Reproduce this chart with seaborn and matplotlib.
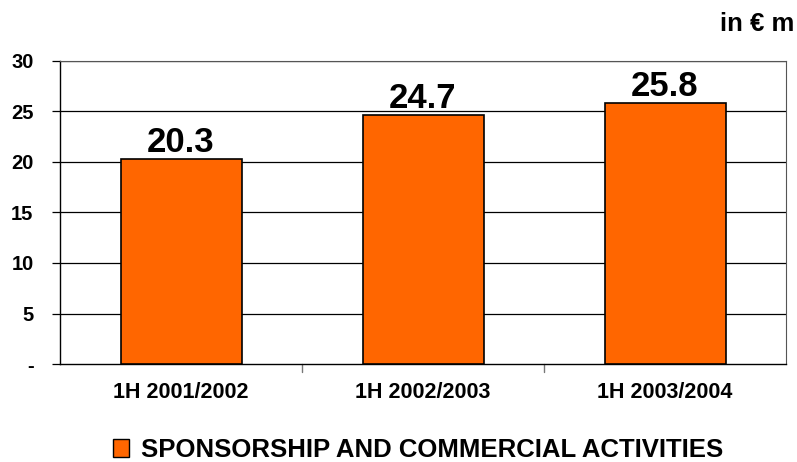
import matplotlib
matplotlib.use("Agg")
import matplotlib.pyplot as plt
import seaborn as sns
import pandas as pd
from matplotlib.patches import Patch

periods = ["1H 2001/2002", "1H 2002/2003", "1H 2003/2004"]
revenue = [20.3, 24.7, 25.8]
y_ticks = [0, 5, 10, 15, 20, 25, 30]
y_tick_labels = ["-", "5", "10", "15", "20", "25", "30"]
series_name = "SPONSORSHIP AND COMMERCIAL ACTIVITIES"

sns.set_theme(style="white")
plt.rcParams["font.family"] = ["Liberation Sans", "DejaVu Sans"]
plt.rcParams["font.weight"] = "bold"
plt.rcParams["text.color"] = "black"
plt.rcParams["xtick.color"] = "black"
plt.rcParams["ytick.color"] = "black"
plt.rcParams["axes.labelcolor"] = "black"

df = pd.DataFrame({"period": periods, "value": revenue})

fig = plt.figure(figsize=(7.97, 4.62), dpi=100)
ax = fig.add_axes([60 / 797, 1 - 364 / 462, 726 / 797, 303 / 462])

sns.barplot(data=df, x="period", y="value", color="#FF6600", saturation=1,
            width=0.5, edgecolor="black", linewidth=1.2, ax=ax, zorder=3)

ax.set_ylim(0, 30)
ax.set_xlim(-0.5, 2.5)
ax.set_yticks(y_ticks)
ax.set_yticklabels(y_tick_labels, fontsize=14.5, fontweight="bold", color="black")
ax.set_xticks(range(len(periods)))
ax.set_xticklabels(periods, fontsize=15.5, fontweight="bold", color="black")
ax.set_xlabel("")
ax.set_ylabel("")

for y in y_ticks[1:]:
    ax.axhline(y, color="black", linewidth=0.9, zorder=1)

for side in ["left", "bottom"]:
    ax.spines[side].set_color("black")
    ax.spines[side].set_linewidth(1.0)
for side in ["top", "right"]:
    ax.spines[side].set_color("#555555")
    ax.spines[side].set_linewidth(0.8)

ax.tick_params(axis="y", which="major", direction="out", length=6, width=0.9,
               color="black", left=True, pad=13)
ax.tick_params(axis="x", which="major", length=0, pad=13)
# Separators between categories on the x axis
for xs in [0.5, 1.5]:
    ax.plot([xs, xs], [0, -0.025], transform=ax.get_xaxis_transform(),
            color="#777777", linewidth=1.0, clip_on=False)

for i, v in enumerate(revenue):
    ax.text(i, v, f"{v:.1f}", ha="center", va="bottom",
            fontsize=25, fontweight="bold", color="black")

fig.text(794 / 797, 1 - 24 / 462, "in € m", ha="right", va="center",
         fontsize=18.5, fontweight="bold", color="black")

handle = Patch(facecolor="#FF6600", edgecolor="black", linewidth=1.0)
leg = fig.legend([handle], [series_name], loc="center", bbox_to_anchor=(418 / 797, 1 - 450 / 462),
                 frameon=False, prop={"size": 18.5, "weight": "bold"},
                 handlelength=0.65, handleheight=0.65, handletextpad=0.45)
for t in leg.get_texts():
    t.set_color("black")

fig.savefig("out.png", dpi=100)
